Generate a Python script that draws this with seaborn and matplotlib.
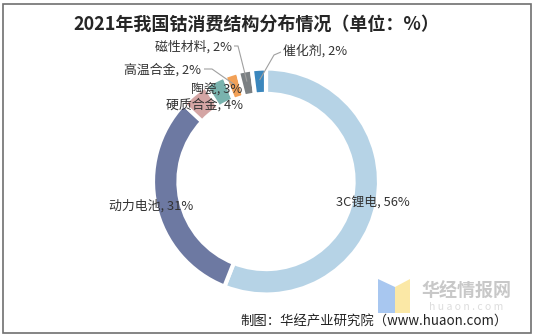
import numpy as np
import matplotlib
matplotlib.use("Agg")
import matplotlib.pyplot as plt
from matplotlib.patches import Rectangle, Polygon
import seaborn as sns

# Cobalt consumption structure, 2021 (%)
categories = ["3C锂电", "动力电池", "硬质合金", "陶瓷", "高温合金", "磁性材料", "催化剂"]
shares = [56, 31, 4, 3, 2, 2, 2]
colors = ["#b6d3e6", "#6d79a2", "#d4a5a4", "#79b3ae", "#f2a157", "#7b8083", "#3b87bd"]

title = "2021年我国钴消费结构分布情况（单位：%）"
source = "制图：华经产业研究院（www.huaon.com）"

sns.set_theme(style="white")
plt.rcParams["font.family"] = ["Noto Sans CJK SC", "DejaVu Sans"]

W, H = 534, 336
fig = plt.figure(figsize=(W / 100, H / 100), dpi=100)
fig.patch.set_facecolor("white")

# donut axes: centre and radius in pixels
cx, cy, R = 266, 181.5, 113
ax = fig.add_axes([(cx - R) / W, (H - cy - R) / H, 2 * R / W, 2 * R / H])

wedges, _ = ax.pie(
    shares, colors=colors, startangle=90, counterclock=False, radius=1.0,
    wedgeprops=dict(width=0.225, edgecolor="white", linewidth=3),
)
ax.set_xlim(-1, 1)
ax.set_ylim(-1, 1)
ax.set_aspect("equal")
ax.axis("off")

def px(x, y):
    return ((x - cx) / R, (cy - y) / R)

labels = [f"{c}, {v}%" for c, v in zip(categories, shares)]
# label anchors (pixel coords) and alignment
label_pos = {
    "3C锂电": ((373, 202), "center"),
    "动力电池": ((151, 206), "center"),
    "硬质合金": ((243, 105), "right"),
    "陶瓷": ((242, 90), "right"),
    "高温合金": ((201, 70), "right"),
    "磁性材料": ((232, 47), "right"),
    "催化剂": ((283, 51), "left"),
}
# leader line elbows (pixel coords) for the thin wedges
elbows = {
    "高温合金": [(204, 69), (212, 69)],
    "磁性材料": [(234, 46), (238, 46)],
    "催化剂": [(281, 52), (274, 55)],
}

for w, cat, lab in zip(wedges, categories, labels):
    (x, y), ha = label_pos[cat]
    tx, ty = px(x, y)
    ax.text(tx, ty, lab, ha=ha, va="center", fontsize=9.3, color="#333333",
            clip_on=False)
    if cat in elbows:
        mid = np.deg2rad((w.theta1 + w.theta2) / 2)
        r = 0.9
        pts = [px(*p) for p in elbows[cat]] + [(r * np.cos(mid), r * np.sin(mid))]
        xs, ys = zip(*pts)
        ax.plot(xs, ys, color="#a0a0a0", lw=0.8, solid_capstyle="butt",
                clip_on=False)

fig.text(256 / W, 1 - 24 / H, title, ha="center", va="center",
         fontsize=13, fontweight="bold", color="#262626")

# watermark logo
logo = fig.add_axes([0, 0, 1, 1], zorder=-1)
logo.set_xlim(0, W)
logo.set_ylim(H, 0)
logo.axis("off")
logo.add_patch(Polygon([(378, 279), (395, 287), (395, 313), (378, 313)],
                       closed=True, color="#a8c7f0", lw=0))
logo.add_patch(Polygon([(395, 287), (410, 279), (410, 313), (395, 313)],
                       closed=True, color="#fbe8a6", lw=0))
logo.text(466, 291, "华经情报网", ha="center", va="center", fontsize=13,
          fontweight="bold", color="#c8c8c8")
logo.text(466, 307, "h u a o n . c o m", ha="center", va="center",
          fontsize=7.5, color="#dddddd")

fig.text(508 / W, 1 - 322 / H, source, ha="right", va="center",
         fontsize=9.6, color="#222222")

# outer frame
fig.add_artist(Rectangle((2.5 / W, (H - 332.5) / H), 528 / W, 329 / H,
                         transform=fig.transFigure, fill=False,
                         edgecolor="#707070", lw=1.2))

fig.savefig("out.png", dpi=100, facecolor="white")
